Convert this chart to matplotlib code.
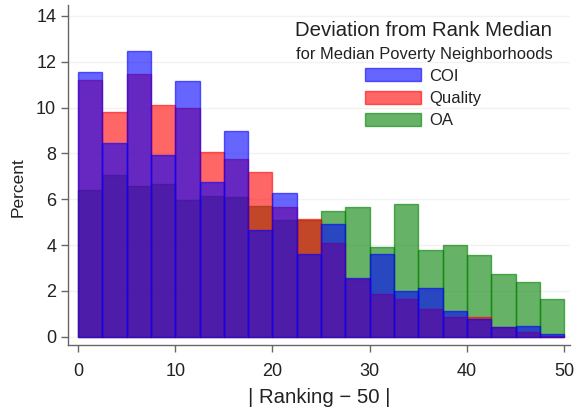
import matplotlib
matplotlib.use("Agg")
import matplotlib.pyplot as plt
import matplotlib.patches as mpatches
import numpy as np

plt.rcParams['font.family'] = ['Liberation Sans', 'DejaVu Sans']

# histogram bins of | Ranking - 50 |, width 2.5
bin_left = np.arange(0, 50, 2.5)
bin_width = 2.5

# percent per bin
coi = [11.55, 8.45, 12.45, 7.95, 11.15, 6.76, 9.0, 4.67, 6.28, 3.62,
       4.94, 2.55, 3.62, 1.98, 2.12, 1.13, 0.76, 0.45, 0.49, 0.12]
quality = [11.2, 9.8, 11.45, 10.1, 9.97, 8.07, 7.75, 7.2, 5.65, 5.15,
           4.08, 2.52, 1.88, 1.66, 1.22, 0.86, 0.87, 0.43, 0.23, 0.05]
oa = [6.4, 7.05, 6.6, 6.67, 5.97, 6.16, 6.1, 5.71, 5.1, 5.1,
      5.5, 5.68, 3.91, 5.79, 3.79, 4.01, 3.59, 2.73, 2.41, 1.63]

series = [("OA", oa, "#008000"), ("Quality", quality, "#ff0000"), ("COI", coi, "#0000ff")]

fig = plt.figure(figsize=(5.81, 4.12), dpi=100)
ax = fig.add_axes([0.117, 0.163, 0.864, 0.825])

# green first, then red, then blue on top
for name, vals, col in series:
    ax.bar(bin_left, vals, width=bin_width, align="edge", color=col, alpha=0.6,
           edgecolor=col, linewidth=1.0, zorder=2)

ax.set_xlim(-1.03, 50.6)
ax.set_ylim(-0.35, 14.48)
ax.set_xticks([0, 10, 20, 30, 40, 50])
ax.set_yticks(np.arange(0, 15, 2))
ax.yaxis.grid(True, color="#f2f2f2", linewidth=1, zorder=0)
ax.set_axisbelow(True)

for s in ["top", "right"]:
    ax.spines[s].set_visible(False)
for s in ["left", "bottom"]:
    ax.spines[s].set_color("#666666")
    ax.spines[s].set_linewidth(1.0)
ax.tick_params(colors="#666666", labelcolor="#222222", labelsize=13, length=5, width=1)
ax.tick_params(axis="x", pad=8)

ax.set_ylabel("Percent", fontsize=12.5, color="#222222")
ax.set_xlabel("| Ranking − 50 |", fontsize=14.7, color="#222222")
ax.yaxis.set_label_coords(-0.084, 0.465)
ax.xaxis.set_label_coords(0.5, -0.126)

# legend block
ax.text(0.709, 0.926, "Deviation from Rank Median", transform=ax.transAxes,
        ha="center", va="center", fontsize=14.7, color="#222222")
ax.text(0.709, 0.853, "for Median Poverty Neighborhoods", transform=ax.transAxes,
        ha="center", va="center", fontsize=11.9, color="#222222")
handles = [mpatches.Patch(facecolor=c, edgecolor=c, alpha=0.6, label=n)
           for n, _, c in [series[2], series[1], series[0]]]
leg = ax.legend(handles=handles, loc="upper left", bbox_to_anchor=(0.592, 0.814),
                frameon=False, fontsize=12, handlelength=3.36, handleheight=0.84,
                labelspacing=0.42, handletextpad=0.5, borderpad=0, borderaxespad=0)
for t in leg.get_texts():
    t.set_color("#222222")

fig.savefig("out.png", dpi=100)
